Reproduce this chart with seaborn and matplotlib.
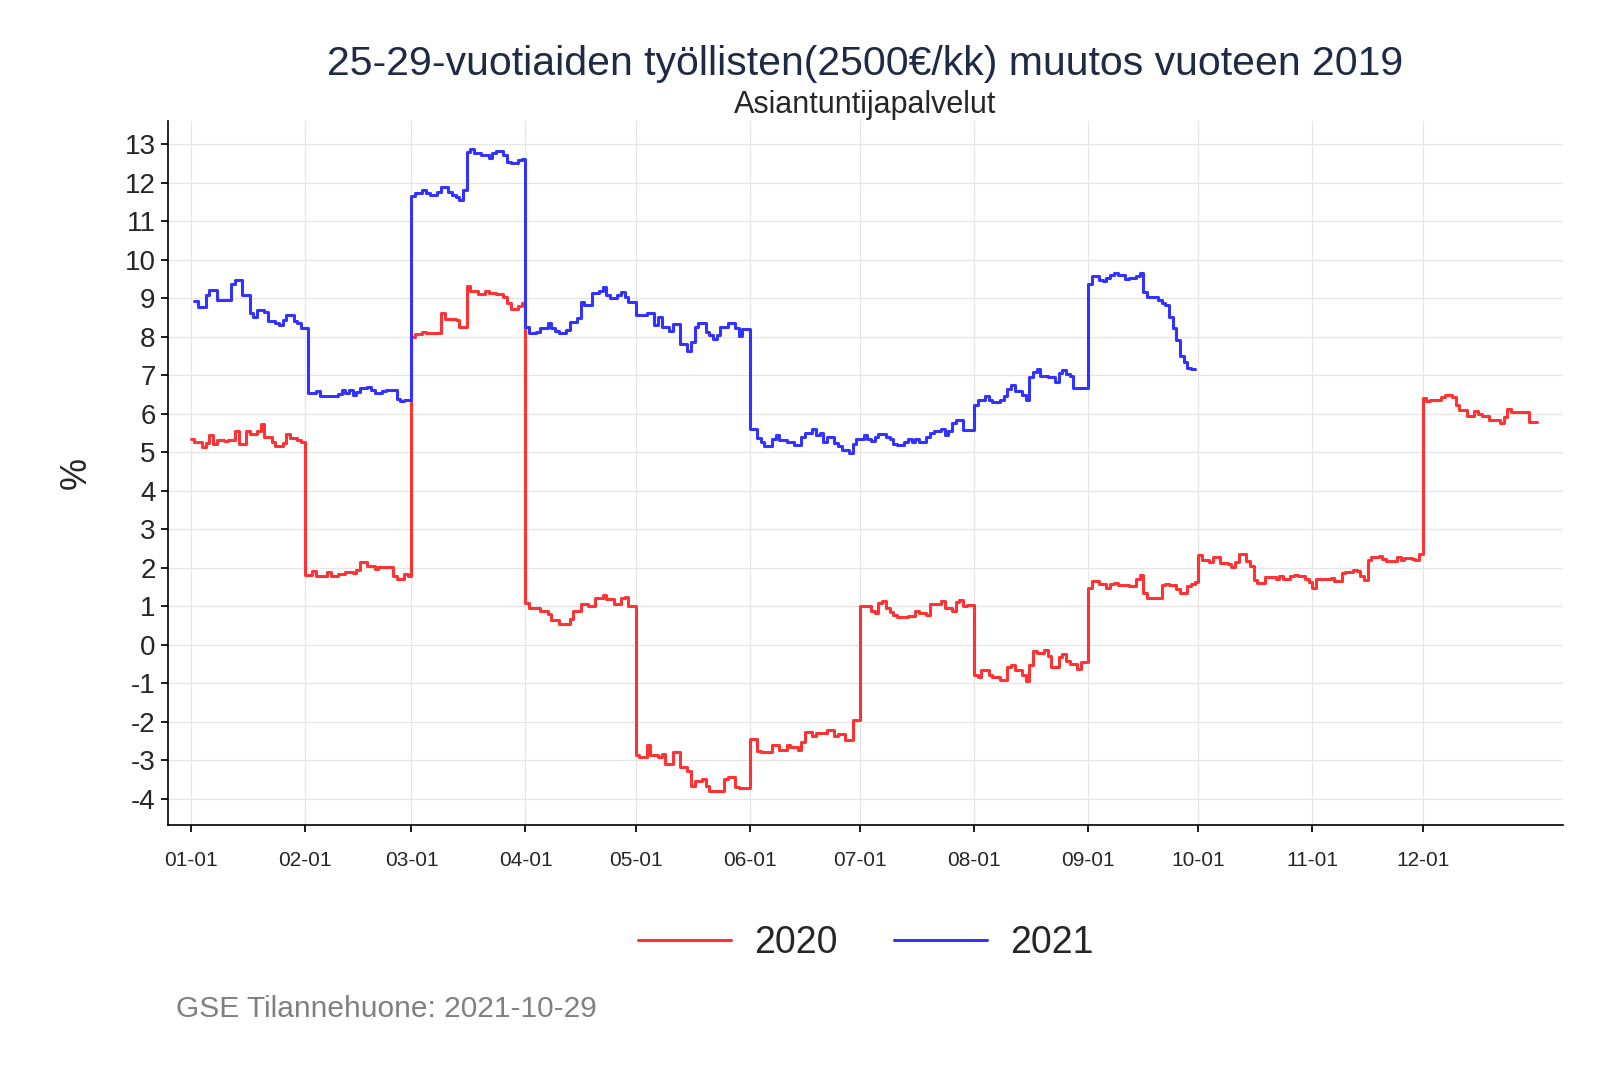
import pandas as pd
import numpy as np
import matplotlib
matplotlib.use("Agg")
import matplotlib.pyplot as plt
import seaborn as sns

# day of year (0 = 01-01, leap-year axis) where the value changes, and the value (%)
days_2020 = [0, 1, 3, 4, 5, 6, 7, 9, 10, 12, 13, 15, 16, 18, 19, 20, 22, 23, 25, 26, 27, 29, 30,
             31, 33, 34, 37, 38, 40, 42, 44, 45, 46, 48, 50, 51, 55, 56, 58, 59,
             60, 61, 63, 64, 68, 69, 72, 73, 75, 76, 78, 80, 81, 83, 85, 86, 87, 89, 90,
             91, 92, 95, 97, 98, 100, 103, 104, 106, 108, 110, 112, 113, 115, 117, 118, 119,
             121, 122, 124, 125, 127, 128, 129, 131, 133, 135, 136, 137, 139, 140, 141, 145, 146, 148, 149,
             152, 154, 155, 158, 160, 162, 163, 165, 166, 167, 169, 170, 173, 175, 176, 178, 180,
             182, 185, 186, 187, 188, 189, 190, 191, 192, 195, 197, 198, 200, 201, 204, 205, 207, 208, 209, 210, 211,
             213, 214, 215, 217, 218, 220, 222, 223, 224, 226, 227, 228, 229, 230, 232, 233, 234, 236, 237, 238, 239, 241, 242,
             244, 245, 247, 249, 250, 251, 252, 255, 257, 258, 259, 260, 264, 265, 266, 268, 269, 271, 272, 273,
             274, 275, 277, 278, 280, 282, 283, 284, 285, 287, 288, 289, 290, 292, 295, 296, 297, 299, 300, 301, 303, 304,
             305, 306, 310, 311, 313, 314, 316, 317, 318, 319, 320, 321, 323, 324, 325, 328, 329, 330, 332, 333, 334,
             335, 336, 337, 339, 340, 341, 343, 344, 345, 347, 349, 350, 351, 353, 354, 356, 357, 358, 359, 360, 364, 366]
vals_2020 = [5.35, 5.26, 5.13, 5.25, 5.46, 5.22, 5.32, 5.29, 5.33, 5.57, 5.22, 5.55, 5.48, 5.55, 5.74, 5.40, 5.26, 5.16, 5.25, 5.48, 5.38, 5.33, 5.26,
             1.83, 1.91, 1.78, 1.89, 1.78, 1.85, 1.90, 1.87, 1.96, 2.15, 2.04, 1.98, 2.03, 1.78, 1.72, 1.85, 1.78,
             8.01, 8.07, 8.12, 8.09, 8.61, 8.47, 8.44, 8.27, 9.32, 9.20, 9.11, 9.20, 9.15, 9.11, 9.04, 8.87, 8.72, 8.80, 8.87,
             1.09, 0.95, 0.89, 0.80, 0.66, 0.54, 0.67, 0.89, 1.06, 1.02, 1.23, 1.30, 1.19, 1.06, 1.23, 1.25, 1.00,
             -2.85, -2.91, -2.61, -2.87, -2.91, -2.83, -3.09, -2.78, -3.17, -3.26, -3.65, -3.52, -3.47, -3.65, -3.78, -3.47, -3.43, -3.69, -3.72,
             -2.44, -2.76, -2.78, -2.61, -2.74, -2.61, -2.66, -2.74, -2.51, -2.27, -2.37, -2.28, -2.20, -2.37, -2.31, -2.48, -1.95,
             1.02, 0.87, 0.83, 1.08, 1.15, 0.95, 0.86, 0.78, 0.72, 0.76, 0.89, 0.82, 0.78, 1.06, 1.13, 0.95, 0.89, 1.12, 1.17, 1.00, 1.04,
             -0.78, -0.82, -0.66, -0.78, -0.84, -0.90, -0.58, -0.53, -0.66, -0.78, -0.93, -0.52, -0.15, -0.21, -0.13, -0.29, -0.58, -0.32, -0.23, -0.41, -0.49, -0.62, -0.45,
             1.49, 1.65, 1.58, 1.49, 1.58, 1.62, 1.56, 1.52, 1.71, 1.82, 1.34, 1.23, 1.55, 1.58, 1.55, 1.45, 1.36, 1.53, 1.59, 1.64,
             2.33, 2.21, 2.16, 2.29, 2.12, 2.11, 2.03, 2.16, 2.37, 2.18, 2.05, 1.68, 1.60, 1.77, 1.72, 1.79, 1.71, 1.78, 1.83, 1.78, 1.72, 1.63,
             1.48, 1.72, 1.74, 1.66, 1.87, 1.89, 1.94, 1.91, 1.78, 1.70, 2.20, 2.28, 2.30, 2.23, 2.19, 2.28, 2.20, 2.26, 2.23, 2.22, 2.37,
             6.42, 6.33, 6.37, 6.35, 6.44, 6.50, 6.44, 6.24, 6.11, 5.95, 6.07, 5.99, 5.95, 5.84, 5.85, 5.77, 5.92, 6.14, 6.05, 6.05, 5.80, 5.80]

days_2021 = [1, 2, 4, 5, 7, 11, 12, 14, 16, 17, 18, 20, 21, 23, 24, 25, 26, 28, 29, 30,
             32, 34, 35, 40, 41, 42, 43, 44, 45, 46, 48, 49, 50, 52, 53, 56, 57, 58,
             60, 61, 63, 64, 65, 67, 68, 70, 71, 72, 73, 74, 75, 76, 77, 79, 81, 82, 83, 85, 86, 87, 89, 90,
             91, 92, 94, 95, 97, 98, 99, 100, 102, 103, 105, 106, 107, 109, 111, 112, 113, 114, 116, 117, 118, 119,
             121, 124, 126, 127, 128, 130, 131, 133, 135, 136, 137, 138, 140, 141, 142, 143, 144, 146, 148, 149, 150,
             152, 154, 155, 156, 158, 159, 160, 162, 164, 166, 167, 169, 170, 171, 172, 173, 175, 176, 177, 179, 180, 181,
             183, 184, 185, 186, 187, 189, 190, 191, 192, 194, 195, 196, 197, 198, 200, 201, 202, 204, 205, 206, 207, 208, 210,
             213, 214, 216, 217, 218, 220, 221, 222, 223, 224, 226, 227, 228, 229, 230, 231, 233, 235, 236, 237, 238, 239, 240,
             244, 245, 247, 248, 249, 250, 251, 252, 254, 255, 257, 258, 259, 260, 261, 263, 264, 265, 266, 267, 268, 269, 270, 271, 272, 273]
vals_2021 = [8.94, 8.78, 9.09, 9.23, 8.95, 9.37, 9.47, 9.09, 8.61, 8.53, 8.70, 8.66, 8.41, 8.37, 8.31, 8.44, 8.57, 8.41, 8.35, 8.22,
             6.54, 6.59, 6.46, 6.52, 6.63, 6.54, 6.61, 6.50, 6.56, 6.67, 6.70, 6.63, 6.54, 6.59, 6.61, 6.39, 6.33, 6.37,
             11.67, 11.73, 11.81, 11.73, 11.68, 11.77, 11.90, 11.77, 11.68, 11.64, 11.55, 11.81, 12.81, 12.87, 12.77, 12.72, 12.64, 12.78, 12.83, 12.72, 12.55, 12.51, 12.59, 12.61,
             8.26, 8.09, 8.13, 8.22, 8.36, 8.22, 8.16, 8.09, 8.17, 8.39, 8.48, 8.91, 8.82, 9.13, 9.19, 9.30, 9.08, 9.00, 9.10, 9.17, 9.04, 8.91,
             8.57, 8.61, 8.31, 8.51, 8.27, 8.16, 8.33, 7.82, 7.63, 7.88, 8.25, 8.35, 8.14, 8.05, 7.95, 8.05, 8.25, 8.35, 8.22, 8.02, 8.20,
             5.60, 5.37, 5.26, 5.17, 5.34, 5.46, 5.33, 5.26, 5.20, 5.39, 5.50, 5.60, 5.46, 5.50, 5.28, 5.41, 5.24, 5.17, 5.07, 4.98, 5.22, 5.34,
             5.45, 5.34, 5.30, 5.39, 5.47, 5.39, 5.36, 5.22, 5.19, 5.28, 5.36, 5.26, 5.34, 5.28, 5.39, 5.50, 5.56, 5.62, 5.45, 5.56, 5.77, 5.84, 5.58,
             6.24, 6.35, 6.47, 6.35, 6.30, 6.37, 6.46, 6.65, 6.76, 6.59, 6.50, 6.35, 6.95, 7.10, 7.16, 6.99, 6.95, 6.83, 7.06, 7.14, 7.03, 6.98, 6.68,
             9.38, 9.59, 9.48, 9.46, 9.53, 9.61, 9.66, 9.61, 9.50, 9.53, 9.59, 9.66, 9.16, 9.05, 9.03, 8.97, 8.88, 8.84, 8.53, 8.23, 7.93, 7.50, 7.34, 7.20, 7.16, 7.16]

month_days = [0, 31, 60, 91, 121, 152, 182, 213, 244, 274, 305, 335]
month_labels = ['01-01', '02-01', '03-01', '04-01', '05-01', '06-01',
                '07-01', '08-01', '09-01', '10-01', '11-01', '12-01']

df = pd.concat([
    pd.DataFrame({'paiva': days_2020, 'muutos': vals_2020, 'vuosi': '2020'}),
    pd.DataFrame({'paiva': days_2021, 'muutos': vals_2021, 'vuosi': '2021'}),
])

sns.set_theme(style='white')
plt.rcParams['font.family'] = ['Liberation Sans', 'DejaVu Sans']
plt.rcParams['axes.unicode_minus'] = False

fig = plt.figure(figsize=(16, 10.67), dpi=100)
ax = fig.add_axes([0.105, 0.227, 0.872, 0.66])

sns.lineplot(data=df, x='paiva', y='muutos', hue='vuosi',
             palette={'2020': '#ff3333', '2021': '#3333ff'},
             drawstyle='steps-post', estimator=None, linewidth=2.2, ax=ax)

ax.set_xlim(-6.2, 373.2)
ax.set_ylim(-4.67, 13.62)
ax.set_xticks(month_days)
ax.set_xticklabels(month_labels, fontsize=15)
ax.set_yticks(range(-4, 14))
ax.tick_params(axis='y', labelsize=20, length=5, color='black', left=True, pad=4)
ax.tick_params(axis='x', length=5, color='black', bottom=True, pad=14)
ax.grid(True, color='#e6e6e6', linewidth=0.9)
for s in ['top', 'right']:
    ax.spines[s].set_visible(False)
for s in ['left', 'bottom']:
    ax.spines[s].set_color('black')
    ax.spines[s].set_linewidth(1.2)
ax.set_xlabel('')
ax.set_ylabel('%', fontsize=26, labelpad=22)

ax.get_legend().remove()
handles, labels = ax.get_legend_handles_labels()
fig.legend(handles, labels, loc='center', bbox_to_anchor=(0.541, 0.116), ncol=2,
           frameon=False, fontsize=27, handlelength=2.5, columnspacing=1.5,
           handletextpad=0.6)

fig.text(0.541, 0.94, '25-29-vuotiaiden työllisten(2500€/kk) muutos vuoteen 2019',
         ha='center', va='center', fontsize=29.5, color='#1f2a44')
fig.text(0.541, 0.902, 'Asiantuntijapalvelut', ha='center', va='center', fontsize=22)
fig.text(0.11, 0.054, 'GSE Tilannehuone: 2021-10-29', ha='left', va='center',
         fontsize=21.5, color='#808080')

fig.savefig('out.png', dpi=100)
